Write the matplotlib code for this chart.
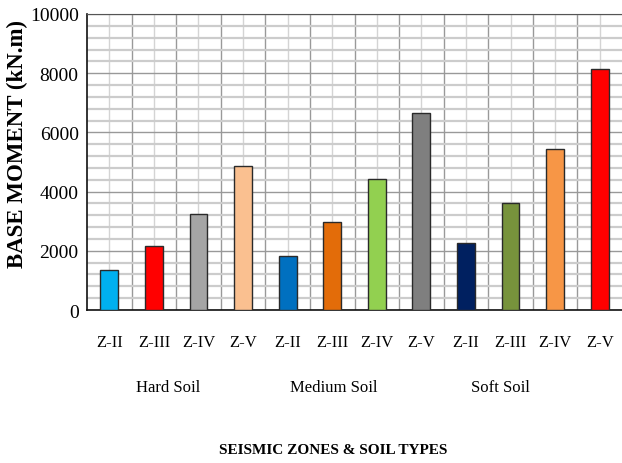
import numpy as np
import matplotlib
matplotlib.use("Agg")
from matplotlib import pyplot as plt
from matplotlib.ticker import MultipleLocator

plt.rcParams['font.family'] = ['Liberation Serif', 'DejaVu Serif']

zones = ['Z-II', 'Z-III', 'Z-IV', 'Z-V'] * 3
soils = ['Hard Soil', 'Medium Soil', 'Soft Soil']
moment = [1350, 2150, 3250, 4850,
          1830, 2960, 4410, 6640,
          2270, 3600, 5430, 8140]
colors = ['#00B0F0', '#FF0000', '#A5A5A5', '#FAC090',
          '#0070C0', '#E36C09', '#92D050', '#7F7F7F',
          '#002060', '#77933C', '#F79646', '#FF0000']

fig = plt.figure(figsize=(6.22, 4.64), dpi=100)
ax = fig.add_axes([0.1399, 0.3297, 0.8601, 0.638])

x = np.arange(len(moment))
ax.bar(x, moment, width=0.4, color=colors, edgecolor='#2a2a2a', linewidth=1.0, zorder=3)

ax.set_xlim(-0.5, len(moment) - 0.5)
ax.set_ylim(0, 10000)
ax.yaxis.set_major_locator(MultipleLocator(2000))
ax.yaxis.set_minor_locator(MultipleLocator(400))
ax.set_xticks(x)
ax.set_xticks(x[:-1] + 0.5, minor=True)
ax.set_xticklabels(zones, fontsize=12)
ax.tick_params(axis='y', labelsize=14, pad=6)
ax.tick_params(which='both', length=0)
ax.tick_params(axis='x', pad=23, labelsize=12)
for lbl in ax.get_xticklabels():
    lbl.set_va('center')

# grid: light lines at centres, darker at boundaries
ax.grid(which='major', axis='y', color='#999999', linewidth=1.0, zorder=0)
ax.grid(which='minor', axis='y', color='#cccccc', linewidth=1.6, zorder=0)
ax.grid(which='minor', axis='x', color='#999999', linewidth=1.0, zorder=0)
ax.grid(which='major', axis='x', color='#d4d4d4', linewidth=1.0, zorder=0)
ax.set_axisbelow(True)

for s in ['left', 'bottom']:
    ax.spines[s].set_color('#111111')
    ax.spines[s].set_linewidth(1.2)
ax.spines['top'].set_color('#555555')
ax.spines['right'].set_visible(False)

# soil group labels
for gx, name in zip([1.32, 5.04, 8.78], soils):
    ax.text(gx, -0.26, name, transform=ax.get_xaxis_transform(),
            ha='center', va='center', fontsize=12)

fig.text(0.028, 0.69, 'BASE MOMENT (kN.m)', rotation=90, ha='center', va='center',
         fontsize=16.5, fontweight='bold')
fig.text(0.536, 0.03, 'SEISMIC ZONES & SOIL TYPES', ha='center', va='center',
         fontsize=11, fontweight='bold')

fig.savefig('out.png', dpi=100)
